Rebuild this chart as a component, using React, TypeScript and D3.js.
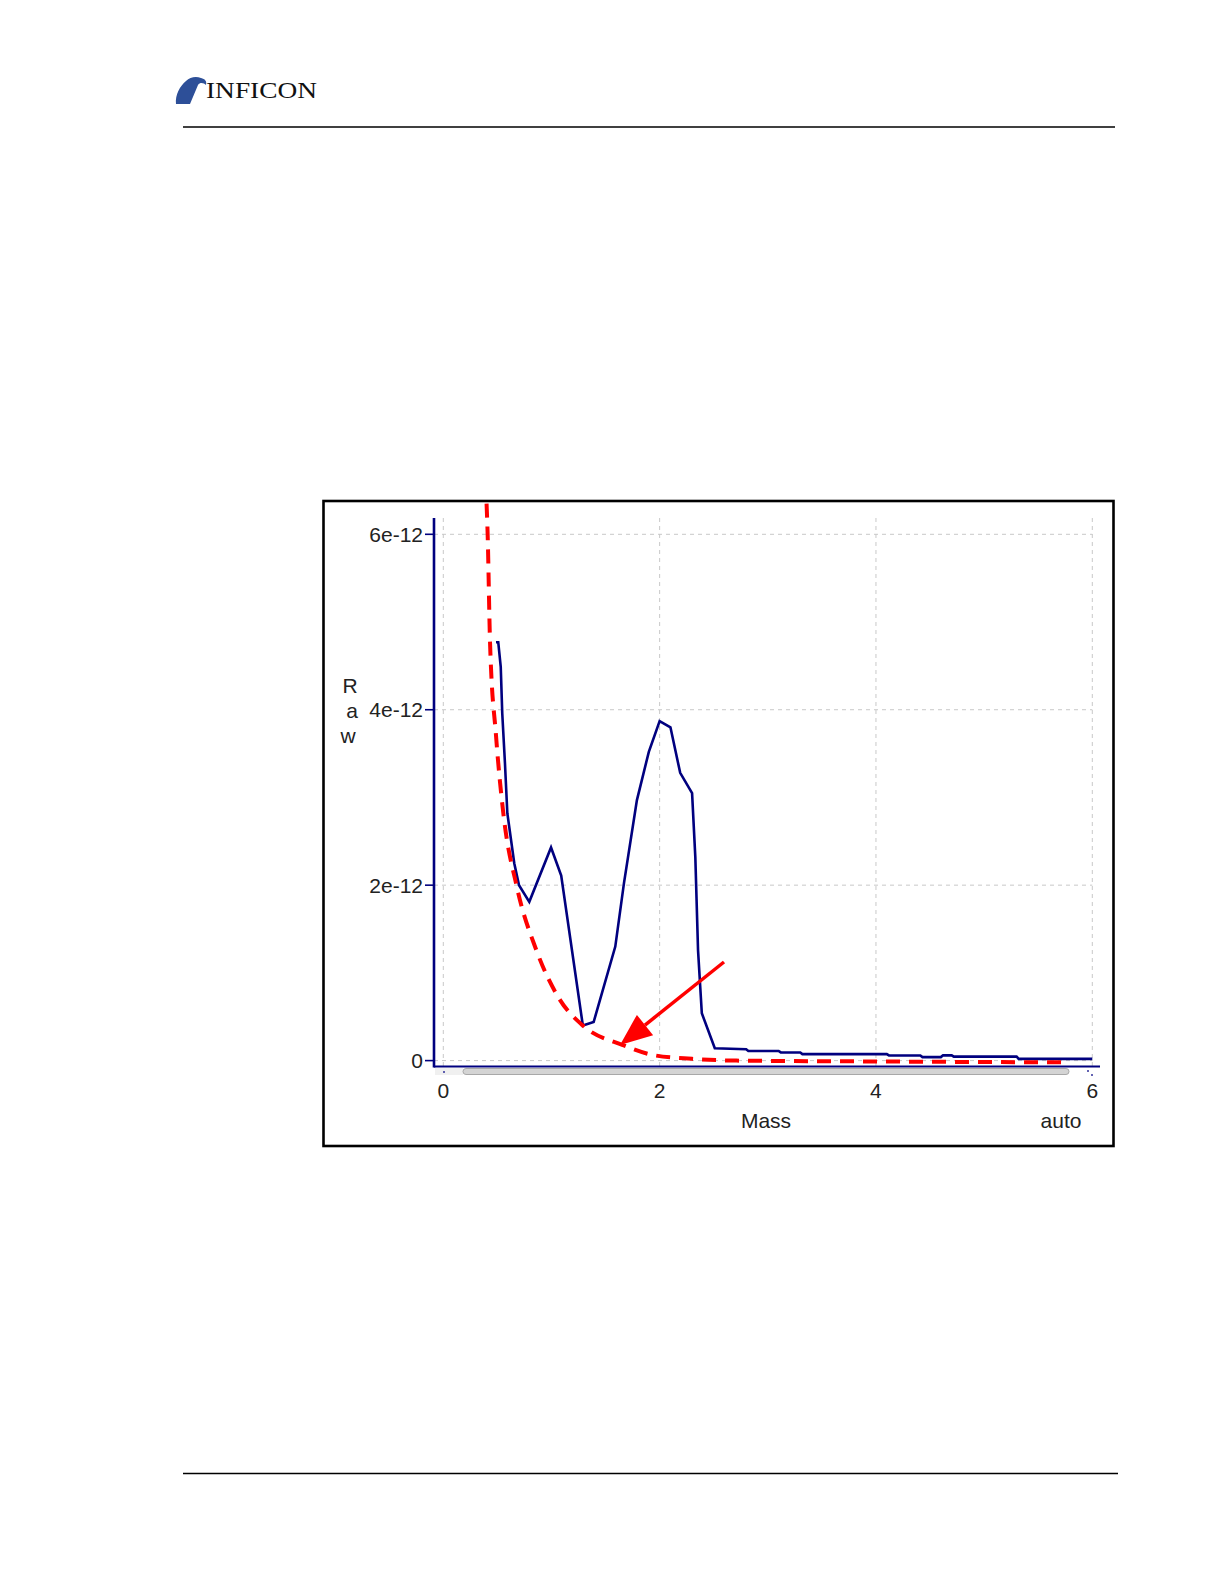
import React from "react";
import * as d3 from "d3";

// Measured scan (mass in amu, raw current in units of 1e-12 A)
const massX = [0.487, 0.508, 0.531, 0.545, 0.57, 0.592, 0.656, 0.7, 0.795, 0.996, 1.09, 1.29, 1.39, 1.59, 1.67, 1.79, 1.9, 2.0, 2.1, 2.19, 2.3, 2.33, 2.355, 2.39, 2.51, 2.8, 2.82, 3.1, 3.12, 3.3, 3.32, 4.1, 4.12, 4.41, 4.43, 4.6, 4.62, 4.7, 4.72, 5.3, 5.32, 6.0];
const rawY = [4.77, 4.77, 4.49, 3.96, 3.39, 2.82, 2.25, 2.0, 1.81, 2.43, 2.11, 0.4, 0.44, 1.3, 2.02, 2.97, 3.52, 3.87, 3.8, 3.28, 3.05, 2.32, 1.26, 0.54, 0.14, 0.13, 0.11, 0.11, 0.093, 0.093, 0.074, 0.074, 0.059, 0.059, 0.04, 0.04, 0.06, 0.06, 0.045, 0.045, 0.02, 0.02];

// Red dashed decay curve
const fitX = [0.4, 0.41, 0.432, 0.487, 0.555, 0.68, 0.86, 1.08, 1.29, 1.66, 1.94, 2.3, 2.71, 4.0, 5.72];
const fitY = [6.35, 6.0, 4.77, 3.71, 2.82, 1.98, 1.26, 0.69, 0.4, 0.177, 0.063, 0.02, 0.0, -0.01, -0.02];

const xTicks = [0, 2, 4, 6];
const yTicks = [0, 2, 4, 6];
const yTickLabels = ["0", "2e-12", "4e-12", "6e-12"];

const NAVY = "#00007f";
const FONT = "'Liberation Sans', Arial, sans-serif";

export default function App() {
  const x = d3.scaleLinear().domain([0, 6]).range([443.3, 1092.3]);
  const y = d3.scaleLinear().domain([0, 6]).range([1060.6, 534.3]);

  const scanLine = d3
    .line<number>()
    .x((_, i) => x(massX[i]))
    .y((d) => y(d));
  const fitLine = d3
    .line<number>()
    .x((_, i) => x(fitX[i]))
    .y((d) => y(d))
    .curve(d3.curveMonotoneX);

  const plotTop = 518;
  const axisY = 1066.5;
  const axisX = 434;

  // Arrow
  const ax1 = 724, ay1 = 962, ax2 = 620, ay2 = 1045;
  const ang = Math.atan2(ay2 - ay1, ax2 - ax1);
  const headLen = 32, headW = 13;
  const bx = ax2 - headLen * Math.cos(ang);
  const by = ax2 ? ay2 - headLen * Math.sin(ang) : 0;
  const px = -Math.sin(ang), py = Math.cos(ang);

  return (
    <svg width={1224} height={1584} style={{ position: "absolute", left: 0, top: 0, background: "#fff" }}>
      {/* Header */}
      <path
        d="M176,104 C175,95 180,86 186,81 C190,77 196,76 201,78 C205,79 207,81 206,85 C204,83 200,82 198,85 L190,104 Z"
        fill="#2d4f98"
      />
      <text x={206} y={98} fontFamily="'Liberation Serif', 'Times New Roman', serif" fontSize={23} textLength={111} lengthAdjust="spacingAndGlyphs" fill="#111">
        INFICON
      </text>
      <line x1={183} x2={1115} y1={127} y2={127} stroke="#000" strokeWidth={1.3} />
      <line x1={183} x2={1118} y1={1473.5} y2={1473.5} stroke="#000" strokeWidth={1.3} />

      {/* Frame */}
      <rect x={323.5} y={501} width={790} height={645} fill="#fff" stroke="#000" strokeWidth={2.6} />

      {/* Grid */}
      {yTicks.map((t) => (
        <line key={"gy" + t} x1={axisX} x2={x(6)} y1={y(t)} y2={y(t)} stroke="#c8c8c8" strokeWidth={1} strokeDasharray="4,4" />
      ))}
      {xTicks.map((t) => (
        <line key={"gx" + t} x1={x(t)} x2={x(t)} y1={plotTop} y2={axisY} stroke="#c8c8c8" strokeWidth={1} strokeDasharray="4,4" />
      ))}

      {/* Scrollbar */}
      <rect x={435} y={1068} width={28} height={7} fill="#f0f0f0" />
      <rect x={463} y={1068.5} width={606} height={6} rx={3} fill="#d4d4d4" stroke="#a8a8a8" strokeWidth={1} />
      <circle cx={444} cy={1072} r={1} fill="#30309a" />
      <circle cx={1088} cy={1071} r={1} fill="#30309a" />
      <circle cx={1092} cy={1075} r={1} fill="#30309a" />

      {/* Axes */}
      <line x1={axisX} x2={axisX} y1={plotTop} y2={axisY + 1} stroke={NAVY} strokeWidth={2.6} />
      <line x1={axisX} x2={1100} y1={axisY} y2={axisY} stroke={NAVY} strokeWidth={1.8} />
      {yTicks.map((t, i) => (
        <g key={"yt" + t}>
          <line x1={425} x2={axisX} y1={y(t)} y2={y(t)} stroke={NAVY} strokeWidth={1.6} />
          <text x={423} y={y(t) + 7.5} textAnchor="end" fontFamily={FONT} fontSize={21} fill="#222">
            {yTickLabels[i]}
          </text>
        </g>
      ))}
      {xTicks.map((t) => (
        <text key={"xt" + t} x={x(t)} y={1098} textAnchor="middle" fontFamily={FONT} fontSize={21} fill="#222">
          {t}
        </text>
      ))}
      <text x={766} y={1128} textAnchor="middle" fontFamily={FONT} fontSize={21} fill="#222">Mass</text>
      <text x={1061} y={1128} textAnchor="middle" fontFamily={FONT} fontSize={21} fill="#222">auto</text>
      <text x={350} y={693} textAnchor="middle" fontFamily={FONT} fontSize={21} fill="#222">R</text>
      <text x={352} y={718} textAnchor="middle" fontFamily={FONT} fontSize={21} fill="#222">a</text>
      <text x={348} y={743} textAnchor="middle" fontFamily={FONT} fontSize={21} fill="#222">w</text>

      {/* Data */}
      <path d={scanLine(rawY) || ""} fill="none" stroke={NAVY} strokeWidth={2.6} strokeLinejoin="miter" />
      <path d={fitLine(fitY) || ""} fill="none" stroke="#ff0000" strokeWidth={4} strokeDasharray="14,9" />

      {/* Arrow */}
      <line x1={ax1} y1={ay1} x2={bx} y2={by} stroke="#ff0000" strokeWidth={3.5} />
      <polygon
        points={`${ax2},${ay2} ${bx + px * headW},${by + py * headW} ${bx - px * headW},${by - py * headW}`}
        fill="#ff0000"
      />
    </svg>
  );
}
